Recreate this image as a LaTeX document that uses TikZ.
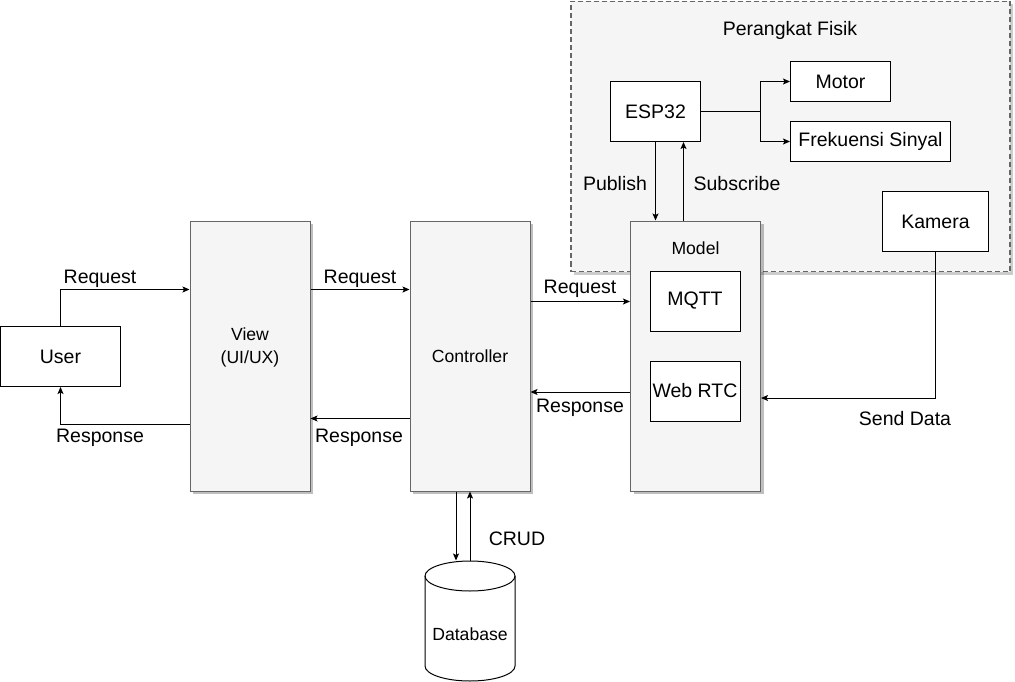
\documentclass[tikz,border=0pt]{standalone}
\usepackage{fontspec}
\setmainfont{Liberation Sans}
\usetikzlibrary{arrows.meta,shadows}
\definecolor{panel}{HTML}{F5F5F5}
\definecolor{edgegray}{HTML}{666666}
\begin{document}
\begin{tikzpicture}[x=1pt,y=-1pt, line width=1pt,
  big/.style={font=\fontsize{19.5}{23}\selectfont},
  small/.style={font=\fontsize{17.6}{23}\selectfont},
  wbox/.style={draw=black, fill=white, inner sep=0pt, big},
  gbox/.style={draw=edgegray, fill=panel, inner sep=0pt, small,
    drop shadow={shadow xshift=3pt, shadow yshift=-3pt, fill=black, opacity=0.25}},
  arr/.style={-{Stealth[length=7pt,width=6pt,inset=1.5pt]}, line width=1pt},
  lbl/.style={big, inner sep=0pt}]
\useasboundingbox (0,0) rectangle (1015,682);

% container
\node[draw=edgegray, fill=panel, line width=1.8pt, dash pattern=on 5pt off 3pt,
  minimum width=439pt, minimum height=270pt, inner sep=0pt,
  drop shadow={shadow xshift=3pt, shadow yshift=-3pt, fill=black, opacity=0.2}]
  (cont) at (790.5,136.5) {};
\node[lbl] (conttitle) at (790,30) {Perangkat Fisik};

% main blocks
\node[gbox, minimum width=120pt, minimum height=270pt, align=center] (view) at (250,356) {};
\node[small, align=center, inner sep=0pt] (viewlbl) at (250,347) {View\\(UI/UX)};
\node[gbox, minimum width=120pt, minimum height=270pt] (ctrl) at (470,356) {Controller};
\node[gbox, minimum width=130pt, minimum height=270pt] (model) at (695.5,356) {};
\node[small, inner sep=0pt] (modellbl) at (695.5,248) {Model};

\node[wbox, minimum width=120pt, minimum height=60pt] (user) at (60.5,356.5) {User};
\node[wbox, minimum width=90pt, minimum height=60pt] (mqtt) at (695,301) {MQTT};
\node[wbox, minimum width=90pt, minimum height=60pt] (webrtc) at (695,391) {Web RTC};

\node[wbox, minimum width=90pt, minimum height=60pt] (esp) at (655.5,111.5) {ESP32};
\node[wbox, minimum width=100pt, minimum height=40pt] (motor) at (840.5,81.5) {Motor};
\node[wbox, minimum width=160pt, minimum height=40pt] (frek) at (870.5,141.5) {Frekuensi Sinyal};
\node[wbox, minimum width=106pt, minimum height=60pt] (kam) at (935.5,221.5) {Kamera};

% database cylinder
\node[minimum width=90pt, minimum height=120pt, inner sep=0pt] (db) at (470,621) {};
\draw[fill=white] (425,576) -- (425,666)
  .. controls (425,674.28) and (445.15,681) .. (470,681)
  .. controls (494.85,681) and (515,674.28) .. (515,666)
  -- (515,576)
  .. controls (515,567.72) and (494.85,561) .. (470,561)
  .. controls (445.15,561) and (425,567.72) .. (425,576) -- cycle;
\draw (425,576) .. controls (425,584.28) and (445.15,591) .. (470,591)
  .. controls (494.85,591) and (515,584.28) .. (515,576);
\node[small, inner sep=0pt] (dblbl) at (470,634) {Database};

% helper coordinates
\coordinate (r1) at (0,289.5);
\coordinate (r2) at (0,424);
\coordinate (r3) at (0,418.5);
\coordinate (r4) at (0,301.5);
\coordinate (r5) at (0,392);
\coordinate (r6) at (0,398);
\coordinate (cx) at (456,0);
\coordinate (sx) at (683.5,0);
\coordinate (jx) at (760,0);

% connectors
\draw[arr] (user.north) |- (view.west |- r1);
\draw[arr] (view.west |- r2) -| (user.south);
\draw[arr] (view.east |- r1) -- (ctrl.west |- r1);
\draw[arr] (ctrl.west |- r3) -- (view.east |- r3);
\draw[arr] (ctrl.east |- r4) -- (model.west |- r4);
\draw[arr] (model.west |- r5) -- (ctrl.east |- r5);
\draw[arr] (ctrl.south -| cx) -- (db.north -| cx);
\draw[arr] (db.north) -- (ctrl.south);
\draw[arr] (esp.east) -- (esp.east -| jx) |- (motor.west);
\draw[arr] (esp.east -| jx) |- (frek.west);
\draw[arr] (esp.south) -- (model.north -| esp.south);
\draw[arr] (model.north -| sx) -- (esp.south -| sx);
\draw[arr] (kam.south) |- (model.east |- r6);

% labels
\node[lbl] (l1) at (100,279) {Request};
\node[lbl] (l2) at (100,438) {Response};
\node[lbl] (l3) at (360,279) {Request};
\node[lbl] (l4) at (359,438) {Response};
\node[lbl] (l5) at (580,289) {Request};
\node[lbl] (l6) at (580,408) {Response};
\node[lbl] (l7) at (615,184) {Publish};
\node[lbl] (l8) at (737,184) {Subscribe};
\node[lbl] (l9) at (905,419) {Send Data};
\node[lbl] (l10) at (517,539) {CRUD};
\end{tikzpicture}
\end{document}
